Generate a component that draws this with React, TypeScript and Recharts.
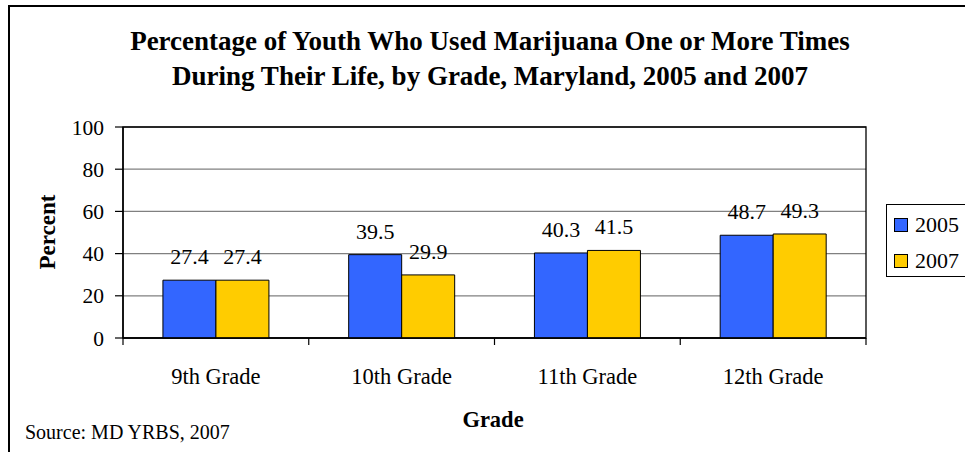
import React from 'react';
import { BarChart, Bar, XAxis, YAxis, CartesianGrid, LabelList, ReferenceArea, Legend } from 'recharts';

const grades = ['9th Grade', '10th Grade', '11th Grade', '12th Grade'];
const values2005 = [27.4, 39.5, 40.3, 48.7];
const values2007 = [27.4, 29.9, 41.5, 49.3];
const yTicks = [0, 20, 40, 60, 80, 100];
const seriesNames = ['2005', '2007'];
const seriesColors = ['#3366FF', '#FFCC00'];

const titleLines = [
  'Percentage of Youth Who Used Marijuana One or More Times',
  'During Their Life, by Grade, Maryland, 2005 and 2007',
];

const data = grades.map((g, i) => ({ grade: g, y2005: values2005[i], y2007: values2007[i] }));

const FONT = '"Liberation Serif", "Times New Roman", serif';

const XTick = (props: any) => {
  const { x, y, payload, index, visibleTicksCount } = props;
  const off = payload && payload.offset != null ? payload.offset : 92.9;
  const last = index === (visibleTicksCount ?? grades.length) - 1;
  return (
    <g>
      <line x1={x - off} y1={y} x2={x - off} y2={y + 7} stroke="#000" strokeWidth={1.2} />
      {last && <line x1={x + off} y1={y} x2={x + off} y2={y + 7} stroke="#000" strokeWidth={1.2} />}
      <text x={x} y={y + 46} textAnchor="middle" fontSize={22.5} fontFamily={FONT} fill="#000">
        {payload.value}
      </text>
    </g>
  );
};

const renderLegend = () => (
  <div
    style={{
      position: 'relative',
      width: 100,
      height: 73,
      border: '1px solid #000',
      boxSizing: 'border-box',
      background: '#fff',
      fontFamily: FONT,
      fontSize: 22,
      color: '#000',
    }}
  >
    {seriesNames.map((n, i) => (
      <div key={n} style={{ position: 'absolute', left: 7, top: 12 + i * 36, height: 16, display: 'flex', alignItems: 'center' }}>
        <div style={{ width: 14, height: 14, background: seriesColors[i], border: '1px solid #000', boxSizing: 'border-box' }} />
        <span style={{ marginLeft: 7, lineHeight: '16px' }}>{n}</span>
      </div>
    ))}
  </div>
);

export default function App() {
  return (
    <div style={{ position: 'absolute', left: 0, top: 0, width: 965, height: 452, overflow: 'hidden', background: '#fff', fontFamily: FONT }}>
      <div style={{ position: 'absolute', left: 8, top: 5, width: 1200, height: 800, border: '2px solid #000' }} />
      <div style={{ position: 'absolute', left: 0, top: 0 }}>
        <BarChart
          width={965}
          height={452}
          data={data}
          margin={{ top: 127, right: 99, bottom: 0, left: 0 }}
          barGap={0}
          barCategoryGap="21.5%"
          style={{ fontFamily: FONT }}
        >
          <CartesianGrid vertical={false} stroke="#808080" strokeWidth={1.3} />
          <XAxis
            dataKey="grade"
            height={114}
            tickSize={0}
            tickMargin={0}
            tickLine={false}
            axisLine={{ stroke: '#000', strokeWidth: 1.5 }}
            tick={<XTick />}
            interval={0}
          />
          <YAxis
            width={123}
            domain={[0, 100]}
            ticks={yTicks}
            interval={0}
            tickSize={8}
            tickMargin={11}
            tickLine={{ stroke: '#000', strokeWidth: 1.2 }}
            axisLine={{ stroke: '#000', strokeWidth: 1.5 }}
            tick={{ fontSize: 21.5, fill: '#000', fontFamily: FONT }}
          />
          <ReferenceArea y1={0} y2={100} fill="none" stroke="#000" strokeWidth={1.3} ifOverflow="visible" />
          <Legend
            layout="horizontal"
            verticalAlign="middle"
            align="center"
            content={renderLegend}
            wrapperStyle={{ left: 886, top: 204, width: 100, height: 73 }}
          />
          <Bar dataKey="y2005" name={seriesNames[0]} fill={seriesColors[0]} stroke="#000" strokeWidth={1} isAnimationActive={false}>
            <LabelList dataKey="y2005" position="top" offset={16} fontSize={22} fill="#000" fontFamily={FONT} />
          </Bar>
          <Bar dataKey="y2007" name={seriesNames[1]} fill={seriesColors[1]} stroke="#000" strokeWidth={1} isAnimationActive={false}>
            <LabelList dataKey="y2007" position="top" offset={16} fontSize={22} fill="#000" fontFamily={FONT} />
          </Bar>
        </BarChart>
      </div>
      <svg width={965} height={452} style={{ position: 'absolute', left: 0, top: 0, pointerEvents: 'none' }}>
        <text x={490} y={50} textAnchor="middle" fontSize={27} fontWeight="bold" fontFamily={FONT} fill="#000">
          {titleLines[0]}
        </text>
        <text x={490} y={85} textAnchor="middle" fontSize={27} fontWeight="bold" fontFamily={FONT} fill="#000">
          {titleLines[1]}
        </text>
        <text x={0} y={0} transform="translate(55,232) rotate(-90)" textAnchor="middle" fontSize={23} fontWeight="bold" fontFamily={FONT} fill="#000">
          Percent
        </text>
        <text x={493} y={427} textAnchor="middle" fontSize={22.5} fontWeight="bold" fontFamily={FONT} fill="#000">
          Grade
        </text>
        <text x={25} y={439} fontSize={20} fontFamily={FONT} fill="#000">
          Source: MD YRBS, 2007
        </text>
      </svg>
    </div>
  );
}
